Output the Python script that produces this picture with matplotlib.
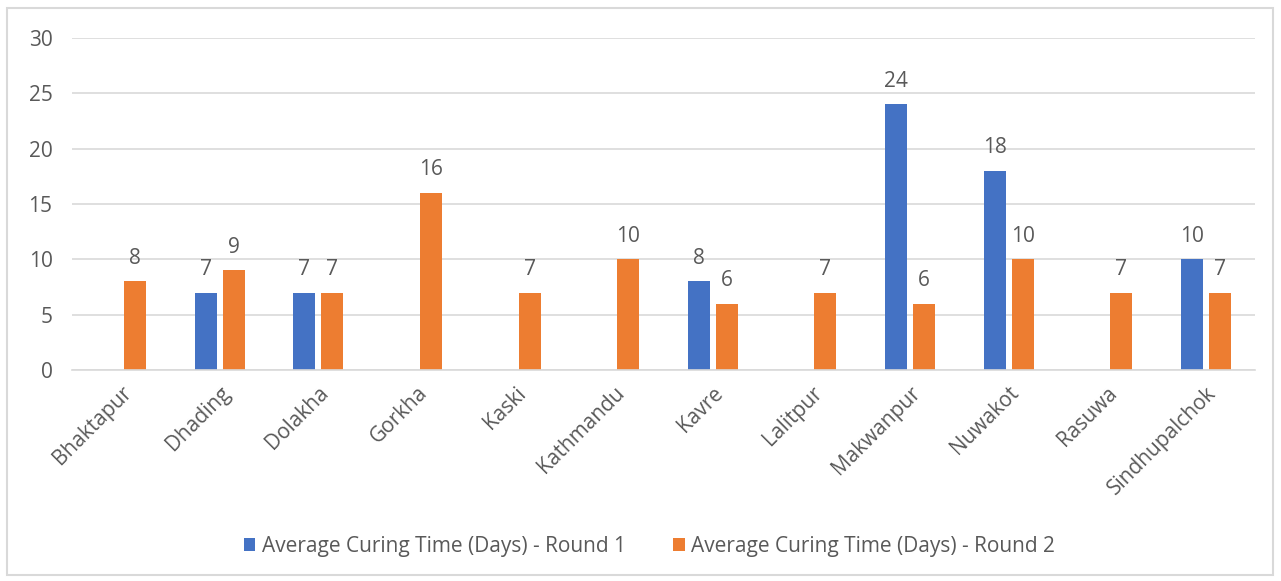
import matplotlib
matplotlib.use("Agg")
import matplotlib.pyplot as plt
from matplotlib.patches import Rectangle
import numpy as np

districts = ["Bhaktapur", "Dhading", "Dolakha", "Gorkha", "Kaski", "Kathmandu",
             "Kavre", "Lalitpur", "Makwanpur", "Nuwakot", "Rasuwa", "Sindhupalchok"]
round1 = [None, 7, 7, None, None, None, 8, None, 24, 18, None, 10]
round2 = [8, 9, 7, 16, 7, 10, 6, 7, 6, 10, 7, 7]
series_names = ["Average Curing Time (Days) - Round 1",
                "Average Curing Time (Days) - Round 2"]
yticks = [0, 5, 10, 15, 20, 25, 30]

blue = "#4472C4"
orange = "#ED7D31"
text_gray = "#595959"
grid_gray = "#D9D9D9"

plt.rcParams["font.family"] = ["Open Sans", "DejaVu Sans"]
fs = 15

fig = plt.figure(figsize=(12.81, 5.81), dpi=100)
ax = fig.add_axes([0.0562, 0.3632, 0.9235, 0.5714])

x = np.arange(len(districts))
width = 0.223
offset = 0.142

def draw_series(vals, dx, color, label):
    xs = [xi + dx for xi, v in zip(x, vals) if v is not None]
    vs = [v for v in vals if v is not None]
    bars = ax.bar(xs, vs, width=width, color=color, label=label, zorder=3)
    for b, v in zip(bars, vs):
        ax.annotate(f"{v}", (b.get_x() + b.get_width() / 2, v),
                    xytext=(0, 9), textcoords="offset points",
                    ha="center", va="bottom", fontsize=fs, color=text_gray)

draw_series(round1, -offset, blue, series_names[0])
draw_series(round2, offset, orange, series_names[1])

ax.set_xlim(-0.5, len(districts) - 0.5)
ax.set_ylim(0, 30)
ax.set_yticks(yticks)
ax.set_xticks(x)
ax.set_xticklabels(districts, rotation=45, ha="right", rotation_mode="anchor",
                   fontsize=fs, color=text_gray)
ax.tick_params(axis="y", labelsize=fs, labelcolor=text_gray, length=0, pad=14)
ax.tick_params(axis="x", length=0, pad=9)
ax.grid(axis="y", color=grid_gray, linewidth=1.2, zorder=0)
for s in ["top", "right", "left"]:
    ax.spines[s].set_visible(False)
ax.spines["bottom"].set_color(grid_gray)
ax.spines["bottom"].set_linewidth(1.2)
ax.spines["bottom"].set_zorder(4)

fig.legend(loc="center", bbox_to_anchor=(0.507, 0.06), ncol=2, frameon=False,
           fontsize=fs, labelcolor=text_gray, handlelength=0.55, handleheight=0.55,
           handletextpad=0.3, columnspacing=2.3)

fig.patches.append(Rectangle((7 / 1281, 6 / 581), 1266 / 1281, 567 / 581,
                             transform=fig.transFigure, fill=False,
                             edgecolor=grid_gray, linewidth=1.5))

fig.savefig("out.png", dpi=100, facecolor="white")
